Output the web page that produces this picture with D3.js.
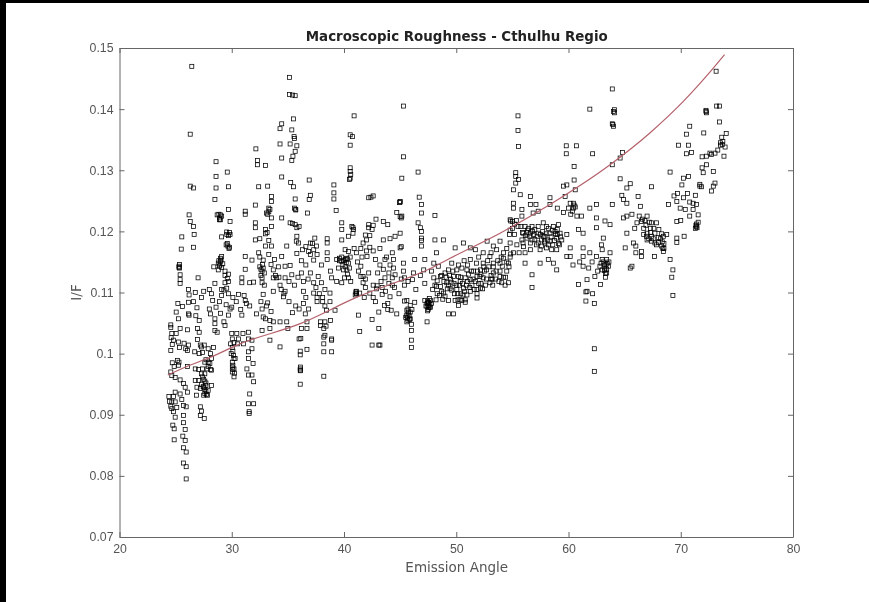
<!DOCTYPE html>
<html>
<head>
<meta charset="utf-8">
<script src="https://cdn.jsdelivr.net/npm/d3@7"></script>
<style>
body { margin: 0; background: #fff; overflow: hidden; }
svg { display: block; font-family: 'DejaVu Sans', sans-serif; filter: blur(0.6px); }
</style>
</head>
<body>
<div class="chart-container"></div>
<script>
const chartTitle = 'Macroscopic Roughness - Cthulhu Regio';
const xLabel = 'Emission Angle';
const yLabel = 'I/F';
const xTicks = [20, 30, 40, 50, 60, 70, 80];
const yTicks = [0.07, 0.08, 0.09, 0.1, 0.11, 0.12, 0.13, 0.14, 0.15];

// fitted curve
const fitAngles = [24.3, 26, 28.1, 30.75, 36.1, 41.1, 48, 49.45, 53.9, 58.35, 63.7, 67.25, 70.25, 72.9, 73.9];
const fitValues = [0.0965, 0.0979, 0.0994, 0.1016, 0.1049, 0.1092, 0.1142, 0.1156, 0.1197, 0.1244, 0.1309, 0.1361, 0.1413, 0.1467, 0.1489];

// [emission angle, I/F], one list per angle band
const band24 = [[25.05,.1068],[25.25,.1057],[24.57,.1047],[24.57,.1043],[25.4,.1041],[26.05,.1039],[24.66,.1033],[25.05,.1033],[24.6,.1026],[24.8,.1022],[25.25,.1019],[25.75,.1017],[25.35,.101],[26.05,.1005],[24.57,.1005],[26.15,.1014],[25.17,.0989],[25.3,.0986],[24.87,.0979],[26.05,.0979],[25.25,.0981],[24.57,.097],[24.66,.0964],[24.96,.0961],[25.4,.0957],[25.7,.0951],[25.85,.0945],[26.05,.0937],[24.96,.0937],[25.4,.0934],[24.4,.093],[24.8,.093],[24.66,.0921],[24.96,.0921],[25.7,.0915],[25.94,.0913],[24.66,.091],[24.57,.0914],[24.96,.0896],[25.7,.0899],[25.7,.0887],[24.75,.0883],[24.87,.0877],[25.85,.0876],[24.87,.0859],[25.64,.0865],[25.85,.0858],[25.7,.0846],[25.94,.0839],[25.7,.0821],[25.94,.0815],[25.94,.0795],[26.44,.147],[26.3,.1359],[26.3,.1274],[26.6,.1271],[26.2,.1227],[26.3,.1216],[26.6,.1208],[25.55,.1191],[26.65,.1195],[25.5,.1171],[26.6,.1174],[25.3,.1143],[25.35,.114],[25.4,.1129],[25.4,.1121],[25.4,.1115],[26.15,.1105],[26.75,.11],[26.15,.1084],[26.15,.1065],[26.2,.1063],[25.2,.1082],[25.6,.1077],[26.6,.1085],[26.2,.1096],[24.7,.0985],[25.55,.0925],[24.8,.0905],[25.1,.0912],[24.45,.0922],[24.7,.1015],[25.9,.1008]];
const band27 = [[27.1,.1054],[26.95,.1041],[27.1,.1035],[26.95,.1023],[27.2,.1014],[27.1,.1],[27.3,.1011],[27.55,.1014],[27.9,.1008],[28.37,.101],[28.1,.1],[28.2,.0992],[26.75,.0975],[27.05,.0974],[27.6,.0986],[27.9,.0986],[27.8,.0975],[28.1,.0974],[27.3,.0967],[27.6,.0967],[28.2,.0973],[26.75,.0956],[27.05,.0956],[26.9,.0945],[27.3,.095],[27.7,.0948],[28.2,.0948],[26.85,.0932],[27.5,.0932],[27.85,.0932],[27.2,.0943],[27.9,.094],[27.2,.0913],[27.3,.0906],[27.2,.0899],[27.55,.0894],[27.5,.0945],[27.7,.0938],[27.6,.0955],[27.4,.0962],[27,.1124],[28,.1073],[28.1,.1065],[28.5,.1057],[28.5,.1049],[28.5,.1038],[28.7,.1035],[29.3,.1052],[29.4,.1046],[29.85,.1073],[29.7,.1063],[28.6,.1314],[28.6,.129],[28.6,.1271],[28.5,.1252],[29.6,.1297],[29.7,.1273],[29.7,.1236],[28.7,.1227],[29,.1227],[29,.1219],[28.9,.1222],[29.85,.1216],[29.56,.1195],[29.85,.1195],[29.1,.1191],[29.7,.1193],[29.5,.1178],[29.8,.1174],[29.65,.1176],[29,.1151],[28.8,.1148],[29.1,.1159],[28.95,.1145],[29.05,.1153],[28.4,.1142],[28.8,.1137],[29.4,.1135],[29.7,.113],[29.4,.1116],[28.5,.1115],[29.55,.1107],[29.7,.1118],[28,.1105],[28.9,.1085],[29.1,.1095],[28.2,.1098],[29.1,.1105]];
const band30 = [[30,.1076],[30,.1033],[30.45,.1033],[30.05,.1024],[30.6,.1024],[29.9,.1016],[30.5,.1016],[30.05,.101],[29.95,.1],[30.2,.0992],[30.05,.0986],[30.2,.0975],[30.05,.097],[30.2,.0962],[30.1,.0981],[30.3,.0992],[31,.1033],[31.5,.1035],[31.5,.1024],[31.05,.1016],[31.8,.1022],[31.8,.1008],[31.5,.1003],[31.5,.0992],[31.35,.0975],[31.9,.0984],[31.5,.0965],[31.8,.0965],[31.95,.0954],[31.6,.0934],[31.5,.0918],[31.95,.0918],[31.55,.0905],[31.55,.0902],[31.2,.1233],[31.2,.1228],[32.1,.1243],[32.15,.1335],[32.3,.1316],[32.3,.1309],[33,.1308],[32.4,.1273],[33.2,.1274],[33.55,.1257],[33.55,.1249],[33.4,.1236],[33.3,.1238],[33.1,.123],[33.55,.1222],[33.55,.1208],[32.1,.1214],[32.1,.1206],[33,.1196],[32.1,.1186],[32.5,.1188],[33.3,.1185],[33.55,.1176],[33,.1176],[31.2,.1159],[31.8,.1153],[32.4,.1165],[32.8,.1153],[33.8,.1154],[31.2,.1138],[32.5,.1142],[32.8,.114],[33.7,.1137],[32.7,.1135],[32.6,.1128],[30.9,.1124],[31.6,.1116],[31.95,.1117],[32.7,.1124],[32.7,.1116],[30.9,.1116],[33.7,.1124],[33.7,.1102],[32.8,.1097],[31.1,.1095],[31.2,.1087],[31.3,.1082],[30.8,.1072],[31.6,.1078],[32.7,.1073],[33,.1057],[33.4,.1054],[32.8,.106],[33.7,.1052],[32.7,.1038],[33.4,.1041],[33.4,.1022],[34.3,.1011],[32.6,.1085],[33.1,.1078],[33.5,.1069],[32.2,.1065],[33.2,.1083]];
const band34 = [[35.15,.1452],[35.15,.1424],[35.65,.1422],[35.4,.1423],[35.5,.1384],[34.45,.1376],[34.3,.1368],[35.35,.1366],[35.55,.1355],[35.6,.1352],[34.3,.1343],[35.2,.1343],[35.8,.134],[35.65,.1331],[35.45,.1323],[35.35,.1316],[34.45,.132],[34.45,.1289],[35.25,.128],[35.5,.1273],[36.9,.1284],[37,.1259],[36.9,.1252],[35.65,.1253],[35.7,.1236],[35.6,.1238],[36.75,.123],[34.45,.1222],[35.2,.1214],[35.65,.1211],[36,.1208],[35.8,.1192],[35.95,.1181],[37,.1181],[37.4,.1189],[37.55,.1176],[37,.1162],[37.3,.117],[38.5,.1188],[38.5,.1181],[34.9,.1176],[34.45,.1159],[35.8,.1164],[37.3,.1153],[34.75,.1143],[35.2,.1144],[34.15,.1142],[38.5,.1154],[34,.1124],[34.75,.1124],[35.35,.1129],[36.2,.1132],[37,.1132],[37.7,.1126],[36.4,.1118],[37.3,.1116],[38,.1116],[34.75,.1102],[36.4,.1102],[37.3,.1099],[38.75,.1099],[34.3,.1052],[34.9,.1052],[35,.1041],[36,.1024],[36.1,.1004],[36.7,.1007],[36.1,.0998],[36.1,.0975],[36.12,.0972],[36.1,.095],[36.7,.1041],[36.2,.1041],[36.7,.1052],[36.55,.1065],[36.4,.1082],[36,.1073],[36.85,.1073],[37.9,.1052],[38.2,.1041],[38.3,.103],[38.9,.1024],[38.2,.1016],[38.2,.1003],[38.9,.1003],[38.2,.0963],[37.9,.1046],[38.45,.1071],[38.8,.1054],[39.2,.1071],[35.1,.1085],[35.7,.1078],[36.6,.1092],[37.6,.1085],[38.1,.1092],[38.3,.1078],[38.75,.1085],[34.6,.1093],[35.4,.1067],[36.8,.1122],[37.5,.1108],[38.3,.1105]];
const band39 = [[39.1,.1276],[39.1,.1263],[39.1,.1253],[39.3,.1234],[39.8,.1214],[39.8,.1203],[39.8,.1186],[40.4,.1192],[40.85,.1203],[40.7,.1208],[40.8,.1206],[40.1,.117],[40.4,.1167],[41.1,.1165],[41.7,.1181],[42,.1186],[42.2,.1211],[42.5,.1203],[42.85,.122],[43.5,.1216],[43.9,.1211],[39.35,.1154],[39.8,.1151],[40.1,.1154],[40.4,.1148],[39.6,.1152],[39.9,.1146],[40.2,.1149],[39.5,.114],[39.95,.1137],[40.25,.1137],[40.5,.114],[40.55,.1158],[38.9,.1124],[39.35,.1118],[39.8,.1116],[40.4,.1124],[41.1,.1102],[41.7,.1126],[41.7,.1116],[42.3,.1099],[41.4,.1099],[42.8,.1154],[42.05,.1159],[43.65,.1154],[44.4,.1154],[43.5,.1138],[44.4,.114],[43.65,.1124],[42.95,.1111],[44.3,.1124],[42.2,.1255],[42.6,.1258],[42.4,.1256],[40.9,.1389],[40.55,.1358],[40.75,.1355],[40.55,.1341],[40.55,.1304],[40.55,.1298],[40.6,.1293],[40.55,.1287],[40.5,.1285],[41.3,.1063],[41.4,.1036],[42.5,.1056],[43.1,.1041],[43.1,.1014],[42.5,.1014],[43.2,.1014],[43.1,.1068],[43.9,.1082],[44.2,.1071],[44.7,.1065],[41,.1096],[41.1,.1099],[41.8,.1092],[42.8,.1085],[43.4,.1097],[43.6,.1079],[44.1,.1093],[44.9,.1098],[41.5,.1143],[41.3,.1135],[42.2,.1132],[43,.1132],[43.2,.1145],[42.6,.1112],[41.9,.1108],[43.7,.1102],[44.5,.1108],[44,.1115]];
const band45 = [[45.3,.1405],[45.3,.1322],[45.15,.1287],[45,.1249],[44.95,.1247],[46.6,.1297],[46.7,.1256],[46.9,.1244],[46.9,.123],[48.1,.1226],[46.6,.1214],[44.7,.1231],[45.15,.1225],[46.9,.12],[46.9,.1189],[46.9,.1176],[48.1,.1186],[48.85,.1186],[45,.1197],[44.55,.1192],[44.1,.1188],[43.5,.1186],[45,.1173],[44.3,.1165],[45.3,.1148],[46.3,.1154],[47.2,.1154],[48.25,.1165],[48,.1148],[45.3,.1135],[44.55,.1129],[46.2,.1132],[47.1,.1137],[48,.1124],[48.6,.1126],[49.15,.1116],[48.25,.111],[48.85,.1099],[49.3,.1137],[45.6,.1071],[45.9,.1057],[45.6,.1052],[46,.1038],[46,.1022],[46,.101],[45.6,.1087],[46.3,.1084],[45.7,.1065],[45.8,.1062],[45.5,.1059],[45.9,.1068],[45.7,.1054],[46.05,.1072],[47.5,.1084],[47.5,.1079],[47.4,.1052],[47.7,.1087],[47.2,.1087],[47.4,.1082],[47.6,.1076],[47.3,.1078],[47.8,.1082],[47.5,.1072],[47.6,.109],[48.2,.1088],[48.8,.1089],[49.3,.1087],[49.3,.1065],[48.3,.1098],[48.6,.111],[47.9,.1105],[47.2,.1115],[46.4,.1105],[45.4,.1112],[46.1,.1121],[46.8,.1128],[47.8,.1135],[48.4,.1143],[49,.1132],[49.2,.1106],[48.9,.1118],[48.5,.1095],[48.1,.1112],[48.7,.1102],[49,.1094]];
const band50 = [[49.9,.1173],[50.65,.1181],[51.25,.1173],[51.7,.117],[52.75,.1184],[53.3,.1176],[53.9,.1184],[54.8,.1181],[52.4,.1165],[53,.1159],[53.6,.117],[54.2,.1165],[51.25,.1154],[51.8,.1148],[52.4,.1148],[53.3,.1148],[53.9,.1148],[54.65,.1148],[50.95,.1137],[51.55,.1135],[52.15,.1137],[52.7,.1137],[53.3,.1132],[53.9,.1135],[54.5,.1135],[50.05,.1137],[50.5,.114],[49.75,.1126],[50.35,.1118],[50.8,.1124],[51.25,.1121],[51.85,.1126],[52.4,.1124],[53,.1116],[54.05,.1116],[54.65,.1116],[49.45,.1107],[50.05,.1105],[50.65,.1107],[51.25,.1102],[51.85,.1105],[52.15,.1107],[51.85,.1091],[50.35,.1088],[50.8,.1088],[49.75,.1065],[50.2,.1079],[49.9,.1087],[50.5,.1087],[50.8,.1084],[51.85,.1098],[49.8,.1115],[50.1,.1098],[50.4,.1098],[50.3,.1112],[50.6,.1096],[50.9,.1112],[51.1,.113],[51.4,.1112],[51.6,.1105],[52,.1115],[52.2,.1129],[52.5,.1135],[52.6,.1112],[52.9,.1142],[53.1,.1128],[53.3,.1142],[53.5,.1122],[53.7,.1152],[53.9,.1126],[54.1,.1143],[54.2,.1156],[54.4,.1125],[54.7,.1142],[54.85,.1163],[50.2,.1145],[50.7,.1152],[51,.1145],[51.5,.1122],[52,.1158],[52.8,.1152],[53.2,.1122],[53.1,.1165],[54,.1158],[54.5,.1172],[52.1,.1126],[50.2,.1126],[49.5,.1122],[49.6,.1148]];
const band55 = [[55.5,.1389],[55.5,.1365],[55.55,.1339],[55.3,.1296],[55.3,.129],[55.55,.1285],[55.3,.1279],[55.1,.1268],[55.7,.126],[55.1,.1246],[55.1,.1238],[55.85,.1236],[54.8,.1219],[55,.1216],[54.85,.1217],[55.85,.1225],[56.6,.1257],[56.6,.1244],[57.1,.1244],[58.35,.1255],[58.35,.1244],[59,.1238],[59.55,.1274],[59.85,.1276],[60.5,.1284],[59.7,.1257],[60.6,.1268],[59.8,.134],[60.7,.134],[59.8,.1327],[60.5,.1306],[57.3,.1233],[56.85,.123],[59.55,.1231],[60.15,.1246],[60.45,.1246],[60.6,.124],[60.5,.1243],[56.13,.1208],[56.45,.1205],[56.75,.1208],[55.95,.1197],[56.6,.1197],[57,.1203],[57.3,.1208],[57.75,.1214],[58.05,.1208],[58.65,.1208],[59.1,.1211],[55.85,.1186],[56.3,.1189],[56.75,.1186],[57.2,.1192],[57.6,.1186],[57.9,.1192],[58.35,.1197],[58.8,.12],[59.25,.1197],[59.85,.1195],[55.95,.1181],[56.6,.1181],[57.3,.1181],[57.9,.1181],[58.35,.1184],[58.95,.1189],[59.4,.1186],[56.13,.1165],[56.6,.117],[57.47,.117],[58.05,.1173],[58.5,.117],[58.95,.117],[56.13,.1148],[57.47,.1148],[58.2,.1154],[58.65,.1148],[58.95,.1137],[56.75,.1129],[56.75,.1108],[56.9,.1195],[57.5,.1195],[58.6,.1178],[59.1,.118],[59,.1195],[56.3,.1198],[57.7,.12],[58.2,.1205],[58.2,.1178],[59.2,.1178],[56,.1175],[55.2,.1195],[55.5,.1208],[55.4,.1178],[55.1,.1165],[55.6,.1165]];
const band60 = [[60.15,.1173],[59.85,.1159],[60.15,.1159],[61.3,.1173],[61.3,.1159],[60.9,.1203],[61.3,.1197],[60.75,.1225],[61.15,.1225],[62.5,.1222],[62.5,.1206],[63.25,.1217],[63.7,.1211],[63.1,.1189],[62.95,.1178],[61.3,.1143],[61.8,.114],[61.9,.1165],[62.5,.1159],[63,.117],[63.7,.1165],[63,.1154],[63.4,.1154],[62.8,.1143],[63.25,.114],[63.55,.1143],[63.4,.1132],[62.35,.1126],[61.65,.1121],[60.9,.1113],[61.65,.1102],[62.85,.1113],[61.55,.1086],[62.3,.1082],[61.55,.1101],[62.15,.1098],[62.3,.1008],[62.3,.0971],[61.9,.14],[63.9,.1433],[64.1,.1399],[64,.1396],[63.95,.1375],[64,.1372],[62.15,.1327],[61.9,.1238],[62.5,.1244],[63.9,.1244],[64.8,.1329],[64.6,.132],[63.9,.1309],[64.6,.1286],[65.5,.1278],[65.2,.1271],[67.4,.1273],[64.75,.1259],[64.9,.1252],[65.2,.1246],[66.2,.1257],[66.4,.1241],[62.9,.1148],[63.3,.1125],[62.6,.1135],[63,.1137],[63.45,.1148],[61,.115],[60.4,.1145],[62.1,.115]];
const band65 = [[65.2,.1225],[64.9,.1222],[65.65,.1228],[66.1,.1214],[66.5,.1216],[67,.1225],[67.4,.1214],[67.85,.1214],[65.2,.1197],[66.7,.1195],[67,.1197],[67.4,.1192],[67.7,.1197],[68.05,.1203],[67,.1186],[67.4,.1184],[67.85,.1178],[68.45,.1192],[68.75,.1195],[68.3,.1176],[68.45,.1167],[65.05,.1173],[65.8,.1181],[66,.1176],[66.5,.1167],[66.5,.1159],[67.65,.1159],[65.65,.1143],[65.5,.114],[69.65,.1189],[69.65,.1182],[70.3,.1192],[69.05,.1154],[69.3,.1137],[69.2,.1125],[69.3,.1095],[68.2,.1188],[68,.1182],[67.3,.1205],[65.9,.1205],[66.3,.1225],[66,.1165],[68.5,.118],[68.4,.1172],[66.9,.121],[67.6,.1205]];
const band70 = [[69.05,.1297],[70.25,.1287],[70.7,.129],[70.1,.1276],[68.9,.1244],[69.4,.1258],[70.25,.1255],[69.65,.1249],[71.3,.1259],[69.95,.1238],[70.4,.1236],[71.1,.1246],[71.4,.1244],[71.1,.1236],[71.55,.1227],[70.8,.1225],[71.55,.1215],[71.4,.1208],[71.3,.1205],[71.35,.121],[69.65,.1216],[70,.1218],[70.8,.1372],[70.5,.1359],[72.05,.1361],[69.8,.1341],[70.7,.1341],[70.5,.1327],[70.95,.1329],[72.25,.1396],[72.3,.1394],[73.2,.1405],[73.45,.1405],[73.45,.1379],[74.05,.136],[73.65,.1354],[73.55,.1341],[73.7,.1342],[73.95,.1338],[73.85,.1323],[73.05,.1328],[72.75,.1326],[72.3,.1323],[71.9,.1322],[72.3,.1309],[71.9,.1304],[72.9,.1298],[72,.1296],[71.7,.1274],[71.85,.1273],[73.05,.1279],[72.9,.1274],[72.75,.1266],[73.15,.1462],[72.6,.1328],[73.3,.1333],[69.7,.1262],[70.8,.1248],[70.6,.1262]];
// darker clumps, where marks sit nearly on top of each other
const clumpsLeft = [[25.35,.1146],[25.3,.1141],[28.85,.1228],[28.9,.1219],[29.1,.1225],[29.55,.1199],[29.8,.1198],[29.6,.118],[29.75,.1172],[29,.1156],[28.85,.1152],[28.9,.1143],[29.2,.1147],[29.1,.1141],[29.4,.1128],[29.6,.1123],[29.3,.1104],[29.7,.1098],[30.1,.1092],[30.4,.1085],[30.6,.1097],[30.9,.1063],[30.2,.1018],[30.1,.1004],[30.15,.0997],[30.05,.0978],[30.1,.0974],[30.25,.0968],[27.5,.0958],[27.7,.0952],[27.45,.0946],[27.6,.0942],[27.6,.0935],[27.75,.0933],[27.4,.0975],[27.9,.0979],[28.05,.0984],[27.7,.099],[26.7,.1003],[27.4,.1002],[26.8,.1062],[26.9,.1075],[27.3,.1092],[27.5,.1102],[28.3,.1087],[28.6,.1076],[29,.1066],[29.5,.108],[33,.1203],[33.3,.1232],[33.2,.1228],[33.15,.1198],[32.5,.1158],[32.6,.1138],[32.75,.1146],[32.9,.1132],[33.3,.1162],[33.5,.1146],[32.9,.1112],[33.9,.1128],[34.2,.1125],[34.3,.1112],[34.4,.1105],[34.65,.1098],[35.1,.1118],[35.6,.1112],[35.9,.1125],[36.2,.1152],[36.6,.1145],[36.3,.117],[36.6,.1175],[36.85,.1167],[37.2,.118],[37.6,.1162],[38,.1145],[38.5,.1165],[38.8,.1135],[35.7,.1235],[35.4,.1213],[35.8,.1206],[35.75,.1184],[36.15,.1025],[36.12,.0978],[36.1,.0973],[37.6,.1092],[37.8,.1098],[38.1,.1085],[38.3,.1052],[38.4,.1045],[38.2,.1027],[38.9,.1022]];
const clumpsMiddle = [[39.6,.1156],[39.8,.1158],[40,.1152],[40.2,.1156],[40.1,.1142],[40.3,.1155],[40.3,.113],[40.05,.1124],[40.6,.1118],[41.05,.1101],[41.1,.1098],[41.5,.1126],[41.9,.1122],[42,.1168],[42.3,.1174],[42.6,.1168],[41.6,.1158],[41.2,.115],[40.9,.1172],[41.5,.1172],[40.8,.1197],[41.9,.1194],[42.3,.1193],[42.6,.121],[42.2,.1206],[43.2,.1172],[43.8,.1158],[44.1,.1145],[44,.1132],[43.3,.1118],[42.9,.1106],[43.4,.1108],[42.6,.1092],[43.9,.1072],[44.3,.1112],[45.1,.1122],[45.4,.1124],[45.7,.1118],[45.4,.1086],[45.7,.1073],[45.75,.1068],[45.55,.1062],[45.65,.1058],[45.85,.1056],[46,.1048],[45.9,.1079],[45.1,.1175],[45,.1248],[45,.1224],[45.1,.1222],[46.9,.1185],[46.8,.1206],[47.45,.1086],[47.55,.1083],[47.4,.1077],[47.55,.1075],[47.65,.1081],[47.45,.107],[47.7,.1076],[48.3,.1119],[48.7,.1128],[49.1,.1125],[49.3,.1112],[49.4,.1128],[49.55,.1117],[49.6,.1104],[49.7,.1135],[49.85,.1098],[50,.1112],[50.15,.1088],[50.4,.1125],[50.55,.1115],[50.75,.1102],[50.95,.1096],[51,.1118],[51.2,.1108],[51.35,.1135],[51.7,.1118],[51.9,.1135],[52.2,.1115],[52.35,.1106],[52.45,.1142],[52.7,.1122],[53.1,.1122],[53.25,.1112],[53.55,.1135],[53.8,.1118],[54.2,.1125],[54.35,.1112],[54.5,.115],[54.8,.1158],[54.75,.1195],[54.8,.1202],[55,.1205]];
const clumpsRight = [[55.35,.1218],[55.2,.1212],[55.75,.1208],[55.9,.1198],[56.15,.1193],[56.35,.1202],[56.55,.1192],[56.8,.12],[57,.1187],[57.15,.1178],[57.35,.1197],[57.6,.1176],[57.75,.1192],[57.85,.1184],[58,.1196],[58.15,.1186],[58.45,.1191],[58.55,.1202],[58.75,.1185],[58.85,.1196],[59,.1203],[59.3,.1191],[60,.1238],[60.35,.1233],[60.45,.1238],[60.2,.1228],[63.1,.115],[63.2,.1145],[63.35,.1146],[63.2,.1136],[63.4,.1138],[63.6,.115],[63.3,.1131],[66.6,.122],[66.8,.1218],[67.2,.1215],[66.7,.1205],[66.95,.1192],[67.15,.1188],[67.3,.1198],[67.55,.1188],[67.7,.1181],[68,.119],[68.3,.1196],[68.35,.1183],[68.5,.1172],[71.4,.1212],[71.45,.1206],[71.7,.1277],[72.25,.1398],[73.55,.1345],[73.75,.1347],[64.1,.1394],[63.9,.1376]];
const allPoints = [band24, band27, band30, band34, band39, band45, band50, band55, band60, band65, band70, clumpsLeft, clumpsMiddle, clumpsRight].flat();

function setupCanvas() {
    const svg_width = 869;
    const svg_height = 602;
    const chart_margin = { top: 48, bottom: 65, left: 119.5, right: 76 };
    const chart_width = svg_width - (chart_margin.left + chart_margin.right);
    const chart_height = svg_height - (chart_margin.top + chart_margin.bottom);
    const axisColor = '#666';

    const this_svg = d3.select('.chart-container')
        .append('svg')
        .attr('width', svg_width).attr('height', svg_height);

    // black edges of the screenshot
    this_svg.append('rect').attr('width', svg_width).attr('height', 3).style('fill', '#000');
    this_svg.append('rect').attr('width', 6).attr('height', svg_height).style('fill', '#000');

    const chart = this_svg.append('g')
        .attr('transform', `translate(${chart_margin.left},${chart_margin.top})`);

    const xScale = d3.scaleLinear().domain([20, 80]).range([0, chart_width]);
    const yScale = d3.scaleLinear().domain([0.07, 0.15]).range([chart_height, 0]);

    // axes on all four sides, ticks pointing inward
    const xAxis = d3.axisBottom(xScale).tickValues(xTicks).tickFormat(d3.format('d')).tickSizeInner(-5).tickSizeOuter(0).tickPadding(7.5);
    const yAxis = d3.axisLeft(yScale).tickValues(yTicks).tickFormat(d3.format('~g')).tickSizeInner(-5).tickSizeOuter(0).tickPadding(6);
    const xAxisTop = d3.axisTop(xScale).tickValues(xTicks).tickFormat('').tickSizeInner(-5).tickSizeOuter(0);
    const yAxisRight = d3.axisRight(yScale).tickValues(yTicks).tickFormat('').tickSizeInner(-5).tickSizeOuter(0);

    chart.append('g').attr('class', 'x axis').attr('transform', `translate(0,${chart_height})`).call(xAxis);
    chart.append('g').attr('class', 'y axis').call(yAxis);
    chart.append('g').attr('class', 'x axis').call(xAxisTop);
    chart.append('g').attr('class', 'y axis').attr('transform', `translate(${chart_width},0)`).call(yAxisRight);
    chart.selectAll('.axis path, .axis line').style('stroke', axisColor);
    chart.selectAll('.axis text').style('fill', '#555').style('font-size', '12.3px');

    // points
    chart.append('g').attr('class', 'points')
        .selectAll('rect')
        .data(allPoints).enter()
        .append('rect')
            .attr('x', d => xScale(d[0]) - 2)
            .attr('y', d => yScale(d[1]) - 2)
            .attr('width', 4).attr('height', 4)
            .style('fill', 'none')
            .style('stroke', '#000')
            .style('stroke-width', 0.75);

    // fit
    const lineGen = d3.line()
        .x((d, i) => xScale(fitAngles[i]))
        .y(d => yScale(d))
        .curve(d3.curveMonotoneX);
    chart.append('path')
        .attr('d', lineGen(fitValues))
        .style('fill', 'none')
        .style('stroke', '#b5616b')
        .style('stroke-width', 1.2);

    // labels
    chart.append('text')
        .attr('x', chart_width / 2 + 0.5).attr('y', -7)
        .attr('text-anchor', 'middle')
        .style('font-size', '13.4px').style('font-weight', 'bold').style('fill', '#222')
        .text(chartTitle);
    chart.append('text')
        .attr('x', chart_width / 2 + 0.5).attr('y', chart_height + 35)
        .attr('text-anchor', 'middle')
        .style('font-size', '13.5px').style('fill', '#555')
        .text(xLabel);
    chart.append('text')
        .attr('transform', `translate(-38.5,${chart_height / 2}) rotate(-90)`)
        .attr('text-anchor', 'middle')
        .style('font-size', '13.5px').style('fill', '#555')
        .text(yLabel);
}

setupCanvas();
</script>
</body>
</html>
